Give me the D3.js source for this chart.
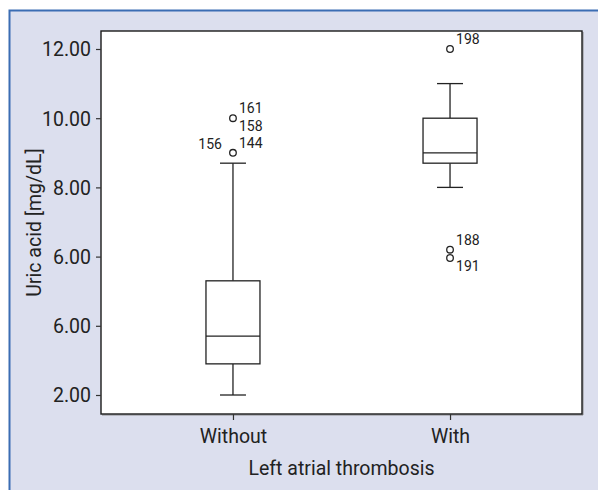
<!DOCTYPE html>
<html>
<head>
<meta charset="utf-8">
<script src="https://cdn.jsdelivr.net/npm/d3@7"></script>
<style>
  body { margin: 0; background: #ffffff; }
  svg { display: block; }
</style>
</head>
<body>
<div id="chart"></div>
<script>
// values
const groups = ["Without", "With"];
const whiskerLow = [2.0, 8.0];
const q1 = [2.9, 8.7];
const median = [3.7, 9.0];
const q3 = [5.3, 10.0];
const whiskerHigh = [8.7, 11.0];

const outlierGroup = ["Without", "Without", "With", "With", "With"];
const outlierValue = [10.0, 9.0, 12.0, 6.2, 5.96];
const outlierIds = [["161", "158"], ["156", "144"], ["198"], ["188"], ["191"]];

const tickValues = [2, 4, 6, 8, 10, 12];
const tickLabels = ["2.00", "6.00", "6.00", "8.00", "10.00", "12.00"];

const width = 598;
const height = 490;
const font = "Roboto, 'Liberation Sans', sans-serif";

const svg = d3.select("#chart").append("svg")
  .attr("width", width)
  .attr("height", height)
  .style("font-family", font);

// panel background with the blue rule on top and left
svg.append("rect")
  .attr("x", 9).attr("y", 10)
  .attr("width", width - 9).attr("height", height - 10)
  .attr("fill", "#dcdfee");
svg.append("path")
  .attr("d", `M9.5,${height} V10.5 H${width}`)
  .attr("fill", "none")
  .attr("stroke", "#3b6db3")
  .attr("stroke-width", 2);

const plot = { left: 101, top: 31, right: 582, bottom: 414 };

const y = d3.scaleLinear()
  .domain([1.451, 12.52])
  .range([plot.bottom, plot.top]);

const x = d3.scalePoint()
  .domain(groups)
  .range([plot.left, plot.right])
  .padding(0.608);

// plot frame (with a faint shadow on right/bottom)
svg.append("path")
  .attr("d", `M${plot.left + 1},${plot.bottom + 1} H${plot.right + 1} V${plot.top + 1}`)
  .attr("fill", "none")
  .attr("stroke", "#8a8a8a")
  .attr("stroke-width", 1);
svg.append("rect")
  .attr("x", plot.left).attr("y", plot.top)
  .attr("width", plot.right - plot.left)
  .attr("height", plot.bottom - plot.top)
  .attr("fill", "#ffffff")
  .attr("stroke", "#1a1a1a")
  .attr("stroke-width", 1.4);

// y axis
const yAxis = svg.append("g")
  .attr("transform", `translate(${plot.left},0)`)
  .call(d3.axisLeft(y)
    .tickValues(tickValues)
    .tickSize(5)
    .tickPadding(5)
    .tickFormat((d, i) => tickLabels[i]));
yAxis.select(".domain").remove();
yAxis.selectAll(".tick line").attr("stroke", "#333").attr("stroke-width", 1.2);
yAxis.selectAll(".tick text")
  .attr("fill", "#222")
  .style("font-family", font)
  .style("font-size", "19.5px")
  .attr("dy", "0.35em");

// x axis
const xAxis = svg.append("g")
  .attr("transform", `translate(0,${plot.bottom})`)
  .call(d3.axisBottom(x).tickSize(6).tickPadding(9));
xAxis.select(".domain").remove();
xAxis.selectAll(".tick line").attr("stroke", "#333").attr("stroke-width", 1.2);
xAxis.selectAll(".tick text")
  .attr("fill", "#222")
  .style("font-family", font)
  .style("font-size", "19.5px");

// axis titles
svg.append("text")
  .attr("x", (plot.left + plot.right) / 2)
  .attr("y", 475)
  .attr("text-anchor", "middle")
  .attr("fill", "#222")
  .style("font-size", "19.5px")
  .text("Left atrial thrombosis");

svg.append("text")
  .attr("transform", `translate(41,${(plot.top + plot.bottom) / 2}) rotate(-90)`)
  .attr("text-anchor", "middle")
  .attr("fill", "#222")
  .style("font-size", "19.5px")
  .text("Uric acid [mg/dL]");

// boxes
const boxW = 54;
const capW = 26;
const stroke = "#222";
const boxes = svg.append("g")
  .selectAll("g")
  .data(groups)
  .join("g")
    .attr("fill", "none")
    .attr("stroke", stroke)
    .attr("stroke-width", 1.3);

boxes.append("line")
  .attr("x1", d => x(d)).attr("x2", d => x(d))
  .attr("y1", (d, i) => y(whiskerHigh[i]))
  .attr("y2", (d, i) => y(q3[i]));
boxes.append("line")
  .attr("x1", d => x(d)).attr("x2", d => x(d))
  .attr("y1", (d, i) => y(q1[i]))
  .attr("y2", (d, i) => y(whiskerLow[i]));
boxes.append("line")
  .attr("x1", d => x(d) - capW / 2).attr("x2", d => x(d) + capW / 2)
  .attr("y1", (d, i) => y(whiskerHigh[i]))
  .attr("y2", (d, i) => y(whiskerHigh[i]));
boxes.append("line")
  .attr("x1", d => x(d) - capW / 2).attr("x2", d => x(d) + capW / 2)
  .attr("y1", (d, i) => y(whiskerLow[i]))
  .attr("y2", (d, i) => y(whiskerLow[i]));
boxes.append("rect")
  .attr("x", d => x(d) - boxW / 2)
  .attr("width", boxW)
  .attr("y", (d, i) => y(q3[i]))
  .attr("height", (d, i) => y(q1[i]) - y(q3[i]))
  .attr("fill", "#ffffff");
boxes.append("line")
  .attr("x1", d => x(d) - boxW / 2).attr("x2", d => x(d) + boxW / 2)
  .attr("y1", (d, i) => y(median[i]))
  .attr("y2", (d, i) => y(median[i]));

// outliers
const outliers = outlierValue.map((v, i) => ({ group: outlierGroup[i], value: v, ids: outlierIds[i] }));

svg.append("g")
  .selectAll("circle")
  .data(outliers)
  .join("circle")
    .attr("cx", d => x(d.group))
    .attr("cy", d => y(d.value))
    .attr("r", 3.3)
    .attr("fill", "#ffffff")
    .attr("stroke", stroke)
    .attr("stroke-width", 1.3);

// case labels: where each label sits next to its point, like SPSS does it
const labelSlot = { "161": "ne", "158": "se", "156": "nw", "144": "ne", "198": "ne", "188": "ne", "191": "se" };
const slotOffset = {
  ne: { dx: 6, dy: -5, anchor: "start" },
  se: { dx: 6, dy: 13, anchor: "start" },
  nw: { dx: -11, dy: -4, anchor: "end" }
};

const labels = outliers.flatMap(d => d.ids.map(id => ({ id, group: d.group, value: d.value })));
svg.append("g")
  .selectAll("text")
  .data(labels)
  .join("text")
    .attr("x", d => x(d.group) + slotOffset[labelSlot[d.id]].dx)
    .attr("y", d => y(d.value) + slotOffset[labelSlot[d.id]].dy)
    .attr("text-anchor", d => slotOffset[labelSlot[d.id]].anchor)
    .attr("fill", "#222")
    .style("font-size", "14px")
    .text(d => d.id);
</script>
</body>
</html>
